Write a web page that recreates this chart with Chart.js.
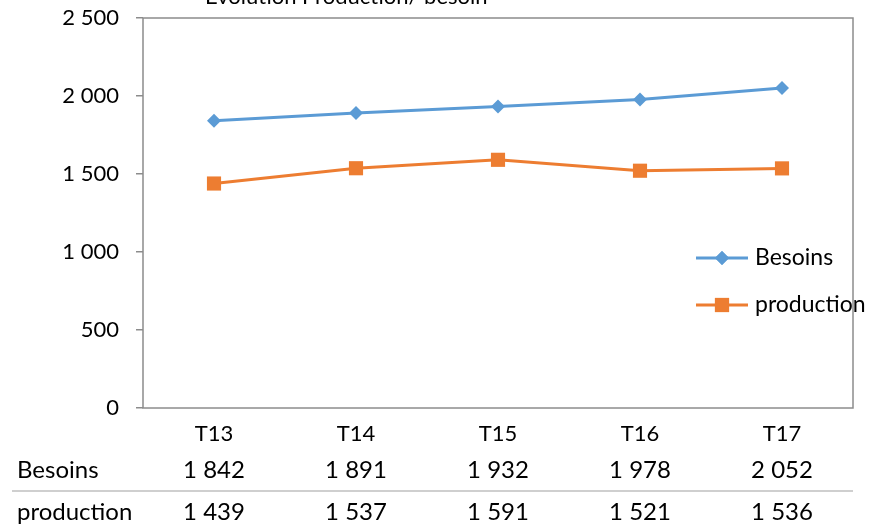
<!DOCTYPE html>
<html>
<head>
<meta charset="utf-8">
<script src="https://cdn.jsdelivr.net/npm/chart.js@4/dist/chart.umd.min.js"></script>
<style>
  html, body { margin: 0; padding: 0; background: #fff; }
  #wrap { width: 894px; height: 525px; position: relative; }
</style>
</head>
<body>
<div id="wrap"><canvas id="chart"></canvas></div>
<script>
const title = "Evolution Production/ besoin";
const categories = ["T13", "T14", "T15", "T16", "T17"];
const besoins = [1842, 1891, 1932, 1978, 2052];
const production = [1439, 1537, 1591, 1521, 1536];
const yTicks = [0, 500, 1000, 1500, 2000, 2500];

const FONT = "Lato, 'Open Sans', sans-serif";
const BLUE = "#5b9bd5";
const ORANGE = "#ed7d31";
const AXIS = "#8c8c8c";

const fmt = (v) => String(v).replace(/\B(?=(\d{3})+(?!\d))/g, " ");

const seriesList = [
  { label: "Besoins", data: besoins, color: BLUE, style: "rectRot", radius: 7 },
  { label: "production", data: production, color: ORANGE, style: "rect", radius: 10 },
];

// border, cut-off title, legend and data table
const extras = {
  id: "extras",
  afterDraw(chart) {
    const { ctx, chartArea: a, scales } = chart;
    ctx.save();
    ctx.strokeStyle = AXIS;
    ctx.lineWidth = 1.5;
    ctx.strokeRect(a.left, a.top, a.right - a.left, a.bottom - a.top);

    ctx.fillStyle = "#000";
    ctx.font = "22px " + FONT;
    ctx.textAlign = "left";
    ctx.textBaseline = "alphabetic";
    ctx.fillText(title, 205, 4);

    // legend
    seriesList.forEach((s, i) => {
      const y = 258 + i * 47;
      ctx.strokeStyle = s.color;
      ctx.lineWidth = 3;
      ctx.beginPath();
      ctx.moveTo(696, y);
      ctx.lineTo(748, y);
      ctx.stroke();
      ctx.fillStyle = s.color;
      Chart.helpers.drawPoint(ctx, { pointStyle: s.style, radius: s.radius, borderWidth: 0 }, 722, y);
      ctx.fill();
      ctx.fillStyle = "#000";
      ctx.font = "23px " + FONT;
      ctx.textBaseline = "middle";
      ctx.fillText(s.label, 755, y);
    });

    // data table
    ctx.font = "24px " + FONT;
    ctx.textBaseline = "middle";
    seriesList.forEach((s, i) => {
      const y = 470 + i * 42;
      ctx.fillStyle = "#000";
      ctx.textAlign = "left";
      ctx.fillText(s.label, 17, y);
      ctx.textAlign = "center";
      s.data.forEach((v, j) => {
        ctx.fillText(fmt(v), scales.x.getPixelForValue(j), y);
      });
    });
    ctx.strokeStyle = "#bfbfbf";
    ctx.lineWidth = 1.5;
    ctx.beginPath();
    ctx.moveTo(12, 491);
    ctx.lineTo(a.right, 491);
    ctx.stroke();
    ctx.restore();
  },
};

new Chart(document.getElementById("chart"), {
  type: "line",
  data: {
    labels: categories,
    datasets: seriesList.map((s) => ({
      label: s.label,
      data: s.data,
      borderColor: s.color,
      backgroundColor: s.color,
      borderWidth: 3,
      pointStyle: s.style,
      pointRadius: s.radius,
      pointBorderWidth: 0,
      tension: 0,
    })),
  },
  options: {
    animation: false,
    responsive: true,
    maintainAspectRatio: false,
    layout: { padding: { top: 18, right: 41, bottom: 0, left: 0 } },
    plugins: {
      legend: { display: false },
      tooltip: { enabled: false },
    },
    scales: {
      x: {
        offset: true,
        grid: { display: false, drawTicks: false },
        border: { display: false },
        ticks: { color: "#000", padding: 13, font: { family: FONT, size: 22 } },
        afterFit: (scale) => { scale.height = 117; scale.paddingLeft = 0; scale.paddingRight = 0; },
      },
      y: {
        min: 0,
        max: 2500,
        afterBuildTicks: (scale) => { scale.ticks = yTicks.map((v) => ({ value: v })); },
        grid: { drawOnChartArea: false, color: AXIS, tickLength: 7, lineWidth: 1.5 },
        border: { display: false },
        ticks: {
          color: "#000",
          padding: 17,
          font: { family: FONT, size: 22 },
          callback: (v) => fmt(v),
        },
        afterFit: (scale) => { scale.width = 143; scale.paddingTop = 0; scale.paddingBottom = 0; },
      },
    },
  },
  plugins: [extras],
});
</script>
</body>
</html>
